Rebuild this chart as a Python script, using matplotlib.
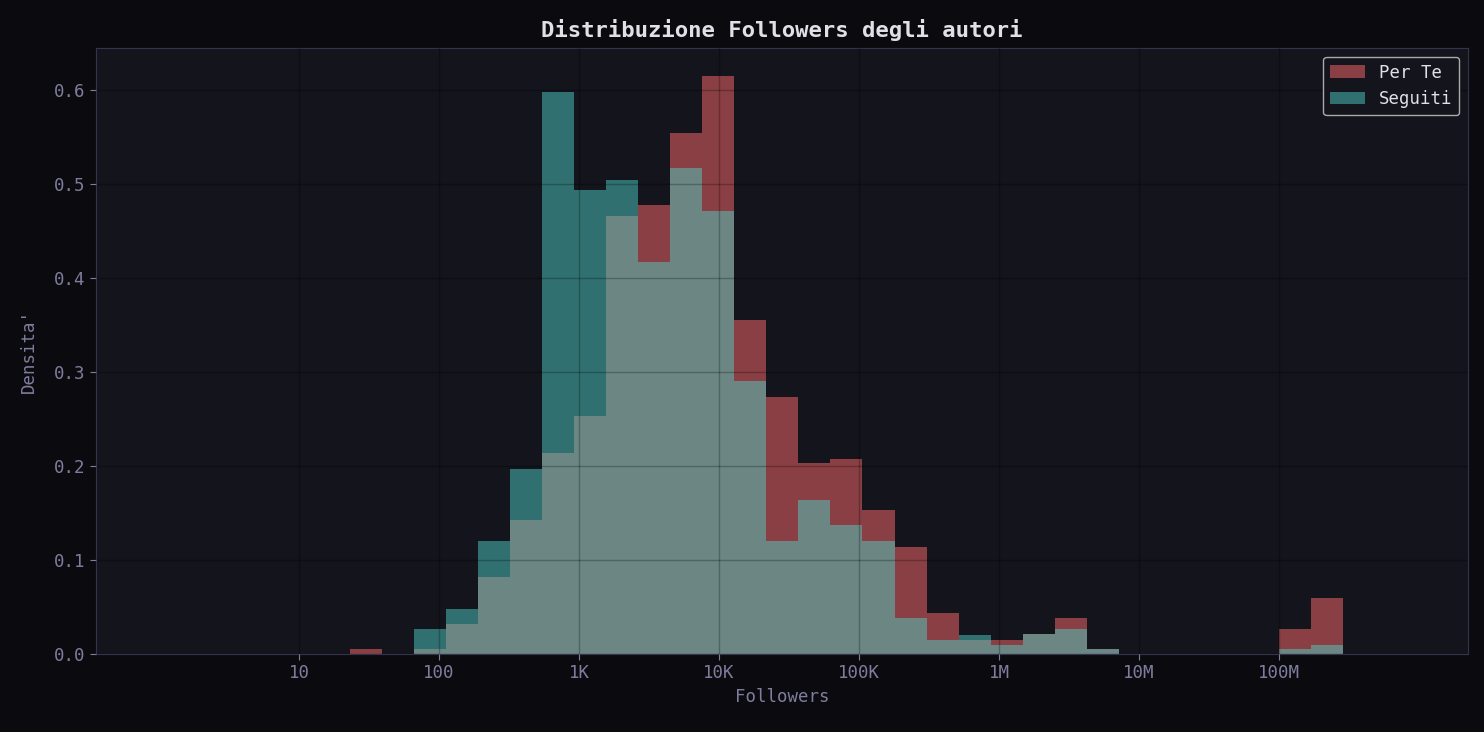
import numpy as np
import matplotlib
matplotlib.use("Agg")
import matplotlib.pyplot as plt
from matplotlib.ticker import FixedLocator, NullLocator

plt.rcParams['font.family'] = ['DejaVu Sans Mono']

log_min, log_max, n_bins = 1.364, 8.457, 31
per_te = [0.005, 0, 0.005, 0.032, 0.082, 0.143, 0.214, 0.253, 0.466, 0.478, 0.555,
          0.615, 0.356, 0.274, 0.203, 0.208, 0.153, 0.114, 0.044, 0.015, 0.015,
          0.021, 0.038, 0.005, 0, 0, 0, 0, 0, 0.027, 0.060]
seguiti = [0, 0, 0.027, 0.048, 0.120, 0.197, 0.598, 0.494, 0.505, 0.417, 0.517,
           0.472, 0.291, 0.120, 0.164, 0.137, 0.120, 0.038, 0.015, 0.020, 0.010,
           0.021, 0.027, 0.005, 0, 0, 0, 0, 0, 0.005, 0.010]
tick_vals = [10, 100, 1e3, 1e4, 1e5, 1e6, 1e7, 1e8]
tick_labels = ['10', '100', '1K', '10K', '100K', '1M', '10M', '100M']

edges = np.logspace(log_min, log_max, n_bins + 1)
widths = np.diff(edges)

fig = plt.figure(figsize=(14.84, 7.32), dpi=100, facecolor='#0b0b0f')
ax = fig.add_axes([96/1484, 1-654/732, (1468-96)/1484, (654-48)/732])
ax.set_facecolor('#13141c')
ax.bar(edges[:-1], per_te, width=widths, align='edge', color='#ff6b6b', alpha=0.5, label='Per Te', zorder=2)
ax.bar(edges[:-1], seguiti, width=widths, align='edge', color='#4ecdc4', alpha=0.5, label='Seguiti', zorder=2)
ax.set_xscale('log')
ax.set_xlim(10**-0.45, 10**9.35)
ax.set_ylim(0, 0.645)
ax.xaxis.set_major_locator(FixedLocator(tick_vals))
ax.xaxis.set_minor_locator(NullLocator())
ax.set_xticklabels(tick_labels)
ax.set_yticks([0, 0.1, 0.2, 0.3, 0.4, 0.5, 0.6])
ax.grid(True, color='#000000', alpha=0.25, linewidth=1, zorder=3)
ax.set_axisbelow(False)
for s in ax.spines.values():
    s.set_color('#33334d')
ax.tick_params(colors='#7f7d9e', labelsize=12.5, length=4)
ax.set_xlabel('Followers', color='#7f7d9e', fontsize=12.5)
ax.set_ylabel("Densita'", color='#7f7d9e', fontsize=12.5, labelpad=12)
ax.set_title('Distribuzione Followers degli autori', color='#e0e0e8', fontsize=16, fontweight='bold', pad=8)
leg = ax.legend(loc='upper right', fontsize=12.5, facecolor='#13141c', edgecolor='#aaaaaa', labelcolor='#e0e0e8')
leg.get_frame().set_alpha(1)
fig.savefig('out.png', dpi=100, facecolor=fig.get_facecolor())
